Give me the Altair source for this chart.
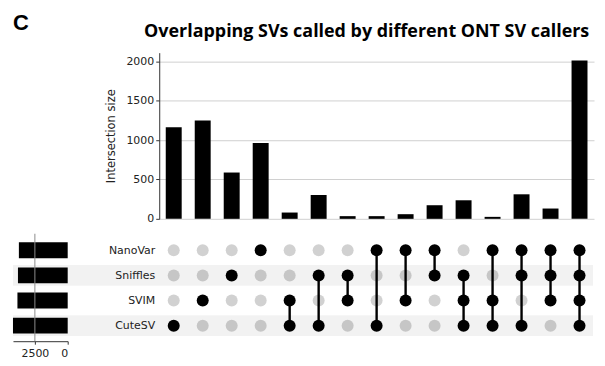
import altair as alt
import pandas as pd

panel_label = "C"
title_text = "Overlapping SVs called by different ONT SV callers"
sets = ["NanoVar", "Sniffles", "SVIM", "CuteSV"]
set_sizes = [3720, 3790, 3830, 4170]
intersection_sizes = [1166, 1251, 589, 964, 80, 303, 34, 34, 59, 173, 236, 25, 312, 131, 2013]
memberships = [
    ["CuteSV"],
    ["SVIM"],
    ["Sniffles"],
    ["NanoVar"],
    ["SVIM", "CuteSV"],
    ["Sniffles", "CuteSV"],
    ["Sniffles", "SVIM"],
    ["NanoVar", "CuteSV"],
    ["NanoVar", "SVIM"],
    ["NanoVar", "Sniffles"],
    ["Sniffles", "SVIM", "CuteSV"],
    ["NanoVar", "SVIM", "CuteSV"],
    ["NanoVar", "Sniffles", "CuteSV"],
    ["NanoVar", "Sniffles", "SVIM"],
    ["NanoVar", "Sniffles", "SVIM", "CuteSV"],
]
count_ticks = [0, 500, 1000, 1500, 2000]
size_ticks = [0, 2500]
grid_at = [2500]

W_LEFT, W_MAIN = 55, 437
H_TOP, H_MAT = 167, 101
TXT = "#222222"

# ---------------- data tables ----------------
bars_df = pd.DataFrame({"col": list(range(len(intersection_sizes))), "size": intersection_sizes})
dot_rows = []
for i, mem in enumerate(memberships):
    for s in sets:
        dot_rows.append({"col": i, "set": s, "active": s in mem})
dots_df = pd.DataFrame(dot_rows)
line_rows = []
for i, mem in enumerate(memberships):
    if len(mem) > 1:
        ordered = sorted(mem, key=sets.index)
        line_rows.append({"col": i, "top": ordered[0], "bottom": ordered[-1]})
lines_df = pd.DataFrame(line_rows)
size_df = pd.DataFrame({"set": sets, "n": set_sizes})
stripe_df = pd.DataFrame({"set": sets[1::2]})
grid_df = pd.DataFrame({"v": grid_at})
label_df = pd.DataFrame({"label": [panel_label]})
title_df = pd.DataFrame({"title": [title_text]})

# ---------------- spacer with panel letter ----------------
spacer = alt.Chart(label_df).mark_text(
    align="left", baseline="alphabetic", fontSize=22, fontWeight="bold",
    font="Liberation Sans", color="black"
).encode(
    text="label:N", x=alt.value(0), y=alt.value(-23)
).properties(width=W_LEFT, height=H_TOP)

# ---------------- top intersection bars ----------------
top_bars = alt.Chart(bars_df).mark_bar(color="black").encode(
    x=alt.X("col:O", axis=None, scale=alt.Scale(paddingInner=0.45, paddingOuter=0.225)),
    y=alt.Y("size:Q",
            scale=alt.Scale(domain=[0, max(intersection_sizes) * 1.05], nice=False),
            axis=alt.Axis(title="Intersection size", values=count_ticks, format="d",
                          grid=True, gridColor="#d0d0d0", gridWidth=1,
                          domainColor="#333333", tickColor="#333333", tickSize=3.5,
                          labelPadding=2, labelFontSize=11, labelFont="DejaVu Sans",
                          labelColor=TXT, titleFont="DejaVu Sans", titleFontSize=11.5,
                          titleFontWeight="normal", titleColor=TXT, titlePadding=9)),
)
top_title = alt.Chart(title_df).mark_text(
    align="center", baseline="alphabetic", font="Open Sans", fontSize=18,
    fontWeight="bold", color="black"
).encode(text="title:N", x=alt.value(W_MAIN / 2 - 10), y=alt.value(-16))
top = alt.layer(top_bars, top_title).properties(width=W_MAIN, height=H_TOP)

# ---------------- set sizes (left) ----------------
ys_band = alt.Y("set:N", scale=alt.Scale(domain=sets, paddingInner=0, paddingOuter=0), axis=None)
size_scale = alt.Scale(domain=[0, max(set_sizes)], reverse=True, nice=False)
stripes = alt.Chart(stripe_df).mark_bar(height=21, color="black", opacity=0.05).encode(
    y=ys_band, x=alt.value(0), x2=alt.value(W_LEFT + 92 + W_MAIN - 1)
)
size_bars = alt.Chart(size_df).mark_bar(height=16, color="black").encode(
    y=ys_band,
    x=alt.X("n:Q", scale=size_scale,
            axis=alt.Axis(title=None, values=size_ticks, format="d", grid=False,
                          domainColor="#333333", tickColor="#333333", tickSize=3,
                          offset=3, labelPadding=3, labelFontSize=11,
                          labelFont="DejaVu Sans", labelColor=TXT)),
)
size_grid = alt.Chart(grid_df).mark_rule(color="#8c8c8c", strokeWidth=1).encode(
    x=alt.X("v:Q", scale=size_scale, title=None),
    y=alt.value(-4), y2=alt.value(H_MAT + 3),
)
sizes = alt.layer(stripes, size_bars, size_grid).properties(width=W_LEFT, height=H_MAT)

# ---------------- matrix ----------------
xs = alt.X("col:O", axis=None, scale=alt.Scale(type="point", padding=0.5))
ys_axis = alt.Axis(title=None, domain=False, ticks=False, labelPadding=4.5,
                   labelFontSize=11, labelFont="DejaVu Sans", labelColor=TXT)
ys_scale = alt.Scale(type="point", padding=0.5, domain=sets)
lines = alt.Chart(lines_df).mark_rule(color="black", strokeWidth=2.4).encode(
    x=xs, y=alt.Y("top:N", scale=ys_scale, axis=ys_axis), y2="bottom:N"
)
dots = alt.Chart(dots_df).mark_circle(size=145, color="black").encode(
    x=xs, y=alt.Y("set:N", scale=ys_scale, axis=ys_axis),
    opacity=alt.condition("datum.active", alt.value(1), alt.value(0.18)),
)
matrix = alt.layer(lines, dots).properties(width=W_MAIN, height=H_MAT)

chart = alt.concat(
    spacer, top, sizes, matrix, columns=2,
    spacing={"row": 19, "column": 92}, bounds="flush",
).properties(
    padding={"left": 5, "top": 3, "right": 3, "bottom": 3},
    background="white",
).configure_view(stroke=None)

chart.save("out.html", embed_options={"renderer": "svg", "actions": False})
